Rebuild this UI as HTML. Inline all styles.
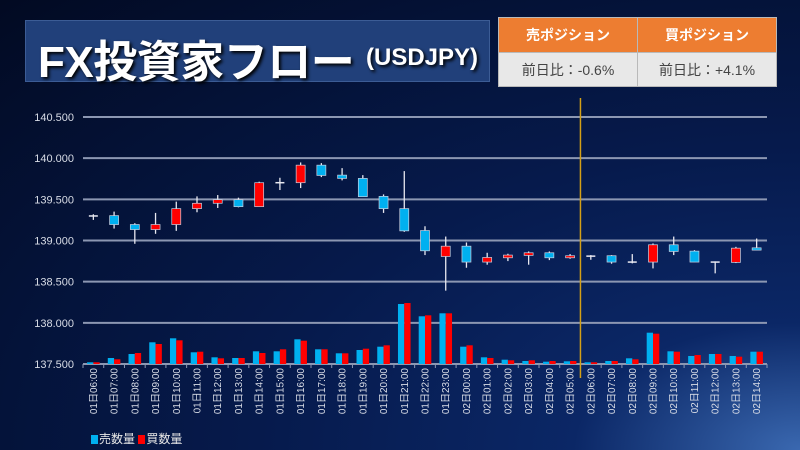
<!DOCTYPE html>
<html><head><meta charset="utf-8">
<style>
html,body{margin:0;padding:0;}
body{width:800px;height:450px;overflow:hidden;position:relative;font-family:"Liberation Sans","Noto Sans CJK JP",sans-serif;
background:radial-gradient(ellipse at 100% 100%,#3a68b0 0%,#0b2766 20%,#061a4c 48%,#020a22 100%);}
#title{position:absolute;left:25px;top:20px;width:465px;height:62px;background:#21407a;border:1px solid #3c5c95;box-sizing:border-box;color:#fff;font-weight:bold;white-space:nowrap;}
#title .big{position:absolute;left:12px;top:5px;font-size:44px;letter-spacing:-0.5px;text-shadow:2px 2px 3px #000;}
#title .sm{position:absolute;left:340px;top:23px;font-size:24px;text-shadow:2px 2px 3px #000;}
#tbl{position:absolute;left:498px;top:17px;width:279px;height:68px;border-collapse:collapse;}
#tbl td{width:50%;text-align:center;border:1px solid #b9b9b9;padding:0;}
#tbl .h td{background:#ed7d31;color:#fff;font-weight:bold;font-size:14px;height:34px;}
#tbl .b td{background:#e8e8e8;color:#444;font-size:14px;height:33px;}
#legend{position:absolute;left:91px;top:430px;color:#e6e6e6;font-size:12px;}
#legend span.sw{display:inline-block;width:7px;height:9px;margin-right:1px;vertical-align:-1px;}
</style></head><body>
<div id="title"><span class="big">FX投資家フロー</span><span class="sm">(USDJPY)</span></div>
<table id="tbl">
<tr class="h"><td>売ポジション</td><td>買ポジション</td></tr>
<tr class="b"><td>前日比：-0.6%</td><td>前日比：+4.1%</td></tr>
</table>
<svg id="chart" width="800" height="450" style="position:absolute;left:0;top:0"></svg>
<div id="legend"><span><span class="sw" style="background:#00b0f0"></span>売数量</span> <span><span class="sw" style="background:#ff0000"></span>買数量</span></div>
<script>
const categories=["01日06:00","01日07:00","01日08:00","01日09:00","01日10:00","01日11:00","01日12:00","01日13:00","01日14:00","01日15:00","01日16:00","01日17:00","01日18:00","01日19:00","01日20:00","01日21:00","01日22:00","01日23:00","02日00:00","02日01:00","02日02:00","02日03:00","02日04:00","02日05:00","02日06:00","02日07:00","02日08:00","02日09:00","02日10:00","02日11:00","02日12:00","02日13:00","02日14:00"];
const openV=[139.298,139.302,139.194,139.133,139.194,139.387,139.452,139.496,139.411,139.702,139.702,139.915,139.794,139.754,139.536,139.387,139.121,138.806,138.931,138.738,138.790,138.819,138.851,138.790,138.810,138.815,138.738,138.738,138.948,138.871,138.738,138.734,138.911];
const highV=[139.319,139.351,139.210,139.335,139.472,139.536,139.552,139.520,139.714,139.762,139.948,139.940,139.879,139.794,139.560,139.843,139.173,139.048,138.976,138.851,138.839,138.867,138.867,138.835,138.823,138.823,138.835,138.964,139.048,138.883,138.746,138.923,139.024];
const lowV=[139.250,139.145,138.960,139.081,139.117,139.343,139.395,139.403,139.411,139.613,139.637,139.770,139.730,139.532,139.335,139.105,138.823,138.391,138.669,138.706,138.750,138.706,138.762,138.778,138.766,138.718,138.722,138.661,138.823,138.738,138.601,138.726,138.883];
const closeV=[139.298,139.194,139.133,139.194,139.387,139.452,139.496,139.411,139.702,139.702,139.915,139.790,139.754,139.532,139.387,139.117,138.875,138.931,138.738,138.794,138.823,138.851,138.790,138.815,138.810,138.738,138.738,138.948,138.867,138.738,138.738,138.907,138.883];
const sellVol=[1.7,6,10,21.7,25.7,11.7,6.7,6,12.7,12.7,24.7,14.7,10.7,14,17.3,60,47.7,50.7,17.3,6.7,4.3,3,2.3,2.7,1.7,3,5.7,31.3,12.7,8,10,8,12.3];
const buyVol=[1.7,4.7,11,20,23.7,12.3,5.7,6,11,14.7,23.3,14.7,10.7,15.3,18.7,61,48.7,50.7,18.7,6,3.7,3.7,3,3,1.7,3,4.7,30.3,12.3,9,10,7.3,12.3];
const yTicks=[137.5,138.0,138.5,139.0,139.5,140.0,140.5];
const yTickLabels=["137.500","138.000","138.500","139.000","139.500","140.000","140.500"];
const dayBreakIndex=24;

const svg=document.getElementById('chart');
const NS='http://www.w3.org/2000/svg';
const X0=83,X1=767,Y0=364,Y1=117,P0=137.5,P1=140.5;
const band=(X1-X0)/categories.length;
const xC=i=>X0+band*(i+0.5);
const yP=p=>Y0-(p-P0)/(P1-P0)*(Y0-Y1);
const yV=v=>Y0-v*1.0;
function mk(t,a){const e=document.createElementNS(NS,t);for(const k in a)e.setAttribute(k,a[k]);svg.appendChild(e);return e;}

yTicks.forEach((t,i)=>{
  const g=mk('line',{x1:X0,x2:X1,y1:yP(t),y2:yP(t),stroke:'#8c97b2','stroke-width':2});
  
  
  const l=mk('text',{x:74,y:yP(t)+4,'text-anchor':'end','font-size':11,fill:'#d8dce6','font-family':'Liberation Sans, sans-serif'});
  l.textContent=yTickLabels[i];
  
  
});
for(let i=0;i<=categories.length;i++){
  const t=mk('line',{x1:X0+band*i,x2:X0+band*i,y1:Y0,y2:Y0+4,stroke:'#8c97b2','stroke-width':1});
  
  
}
categories.forEach((c,i)=>{
  const w=6.3;
  const s=mk('rect',{x:xC(i)-w,y:yV(sellVol[i]),width:w,height:Y0-yV(sellVol[i]),fill:'#00b0f0'});
  
  
  const b=mk('rect',{x:xC(i),y:yV(buyVol[i]),width:w,height:Y0-yV(buyVol[i]),fill:'#ff0000'});
  
  
  const lb=mk('text',{transform:`translate(${xC(i)+3.5},368) rotate(-90)`,'text-anchor':'end','font-size':10,fill:'#d8dce6','font-family':'Liberation Sans, Noto Sans CJK JP, sans-serif'});
  lb.textContent=c;
  
  
});
categories.forEach((c,i)=>{
  const o=openV[i],cl=closeV[i];
  const wk=mk('line',{x1:xC(i),x2:xC(i),y1:yP(highV[i]),y2:yP(lowV[i]),stroke:'#e8e8f0','stroke-width':1.3});
  
  
  const top=yP(Math.max(o,cl)),bot=yP(Math.min(o,cl));
  if(Math.abs(o-cl)<0.004){
    const d=mk('line',{x1:xC(i)-4.5,x2:xC(i)+4.5,y1:top,y2:top,stroke:'#e8e8f0','stroke-width':1.5});
    
    
  }else{
    const r=mk('rect',{x:xC(i)-4.5,y:top,width:9,height:Math.max(bot-top,2),fill:cl>o?'#ff0000':'#00b0f0',stroke:'#c8d0e0','stroke-width':0.7});
    
    
  }
});
const vl=mk('line',{x1:X0+band*dayBreakIndex,x2:X0+band*dayBreakIndex,y1:98,y2:378,stroke:'#d4a017','stroke-width':1.5});


</script>
</body></html>
